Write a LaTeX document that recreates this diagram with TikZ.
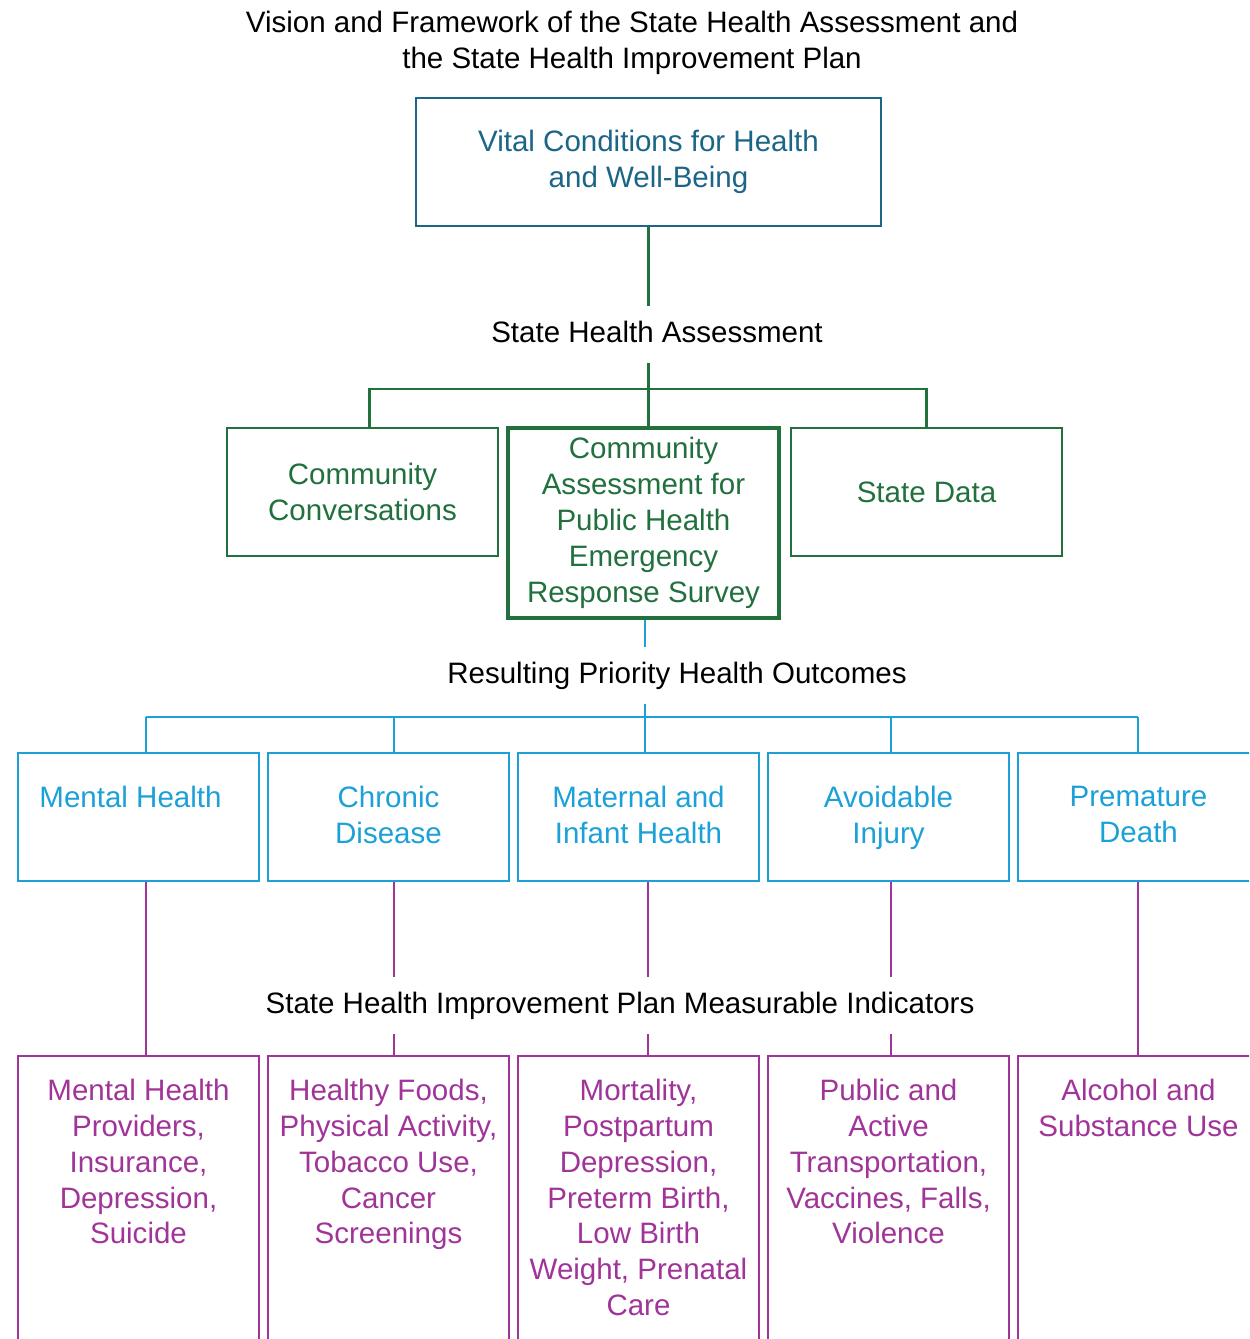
\documentclass[tikz,border=0pt]{standalone}
\usepackage{fontspec}
\setmainfont{Liberation Sans}
\usetikzlibrary{positioning}
\definecolor{shteal}{RGB}{27,101,135}
\definecolor{shgreen}{RGB}{33,112,62}
\definecolor{shblue}{RGB}{27,160,215}
\definecolor{shpurple}{RGB}{160,52,152}

\begin{document}
\begin{tikzpicture}[x=0.02cm,y=-0.02cm,
        every node/.style={font=\fontsize{16.8}{20.4}\selectfont},
        box/.style={draw,line width=1.4pt,minimum width=4.82cm,minimum height=2.56cm,align=center,inner sep=0pt},
        hdr/.style={align=center,inner xsep=0pt,inner ysep=0.3cm,text height=0.42cm,text depth=0.12cm},
        txt/.style={align=center,inner sep=0pt},
        conn/.style={line width=1.4pt}]
      \clip (0,0) rectangle (1249,1339);
      \node[txt,anchor=north] (ttl) at (632,11) {Vision and Framework of the State Health Assessment and\\the State Health Improvement Plan};
      % vision and assessment
      \node[box,draw=shteal,text=shteal,minimum width=9.3cm] (vc) at (648.5,162) {Vital Conditions for Health\\and Well-Being};
      \node[hdr,anchor=base] (sha) at (657,342) {State Health Assessment};
      \node[box,draw=shgreen,text=shgreen,minimum width=5.42cm] (cc) at (362.5,492) {Community\\Conversations};
      \node[box,draw=shgreen,text=shgreen,minimum width=5.42cm,minimum height=3.8cm,line width=2pt] (cap) at (643.5,523) {Community\\Assessment for\\Public Health\\Emergency\\Response Survey};
      \node[box,draw=shgreen,text=shgreen,minimum width=5.42cm] (sd) at (926.5,492) {State Data};
      \coordinate (gbar) at (648.5,389);
      \draw[conn,shgreen] (vc) -- (vc.south |- sha.north);
      \draw[conn,shgreen] (vc.south |- sha.south) -- (vc.south |- cap.north);
      \draw[conn,shgreen] ([xshift=0.14cm]cc.north) |- (gbar) -| (sd.north);
      % priority outcomes
      \node[hdr,anchor=base] (rpo) at (677,683) {Resulting Priority Health Outcomes};
      \node[box,draw=shblue] (mh) at (138.5,817) {};
      \node[box,draw=shblue] (cd) at (388.5,817) {};
      \node[box,draw=shblue] (mi) at (638.5,817) {};
      \node[box,draw=shblue] (ai) at (888.5,817) {};
      \node[box,draw=shblue] (pd) at (1138.5,817) {};
      \node[txt,text=shblue,below=0.68cm of mh.north,xshift=-0.16cm] (mht) {Mental Health};
      \node[txt,text=shblue,below=0.68cm of cd.north] (cdt) {Chronic\\Disease};
      \node[txt,text=shblue,below=0.68cm of mi.north] (mit) {Maternal and\\Infant Health};
      \node[txt,text=shblue,below=0.68cm of ai.north] (ait) {Avoidable\\Injury};
      \node[txt,text=shblue,below=0.68cm of pd.north] (pdt) {Premature\\Death};
      \coordinate (bbar) at (645,717);
      \draw[conn,shblue] (cap.south -| bbar) -- (bbar |- rpo.north);
      \draw[conn,shblue] (bbar |- rpo.south) -- (bbar);
      \draw[conn,shblue] ([xshift=0.15cm]mh.north |- bbar) -- ([xshift=-0.01cm]pd.north |- bbar);
      \foreach \b/\s in {mh/0.15,cd/0.11,mi/0.13,ai/0.05,pd/-0.01}
        \draw[conn,shblue] ([xshift=\s cm]\b.north) -- ([xshift=\s cm]\b.north |- bbar);
      % measurable indicators
      \node[hdr,anchor=base] (ind) at (620,1013) {State Health Improvement Plan Measurable Indicators};
      \node[box,draw=shpurple,minimum height=6.4cm] (mhi) at (138.5,1216) {};
      \node[box,draw=shpurple,minimum height=6.4cm] (cdi) at (388.5,1216) {};
      \node[box,draw=shpurple,minimum height=6.4cm] (mii) at (638.5,1216) {};
      \node[box,draw=shpurple,minimum height=6.4cm] (aii) at (888.5,1216) {};
      \node[box,draw=shpurple,minimum height=6.4cm] (pdi) at (1138.5,1216) {};
      \node[txt,text=shpurple,below=0.48cm of mhi.north] {Mental Health\\Providers,\\Insurance,\\Depression,\\Suicide};
      \node[txt,text=shpurple,below=0.48cm of cdi.north] {Healthy Foods,\\Physical Activity,\\Tobacco Use,\\Cancer\\Screenings};
      \node[txt,text=shpurple,below=0.48cm of mii.north] {Mortality,\\Postpartum\\Depression,\\Preterm Birth,\\Low Birth\\Weight, Prenatal\\Care};
      \node[txt,text=shpurple,below=0.48cm of aii.north] {Public and\\Active\\Transportation,\\Vaccines, Falls,\\Violence};
      \node[txt,text=shpurple,below=0.48cm of pdi.north] {Alcohol and\\Substance Use};
      \foreach \a/\b/\s in {mh/mhi/0.15,pd/pdi/-0.01}
        \draw[conn,shpurple] ([xshift=\s cm]\a.south) -- ([xshift=\s cm]\b.north);
      \foreach \a/\b/\s in {cd/cdi/0.11,mi/mii/0.19,ai/aii/0.05} {
        \draw[conn,shpurple] ([xshift=\s cm]\a.south) -- ([xshift=\s cm]\a.south |- ind.north);
        \draw[conn,shpurple] ([xshift=\s cm]\a.south |- ind.south) -- ([xshift=\s cm]\b.north);
      }
    \end{tikzpicture}
\end{document}
